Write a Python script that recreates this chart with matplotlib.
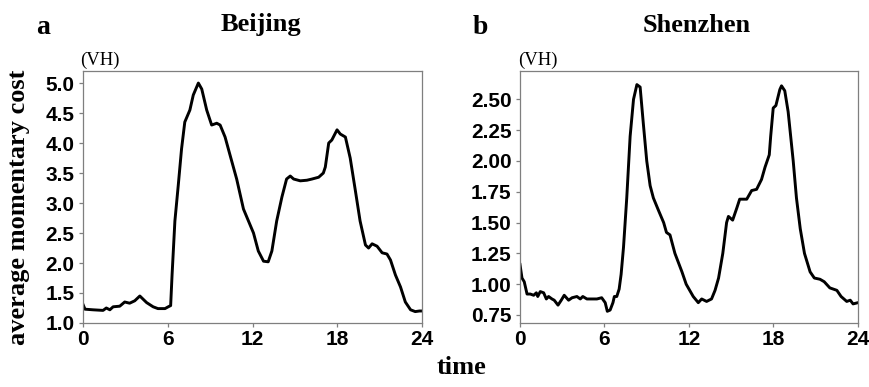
import matplotlib
matplotlib.use("Agg")
import matplotlib.pyplot as plt

# Beijing: hour of day vs average momentary cost (VH)
bj_time = [0.0, 0.14, 0.7, 1.42, 1.65, 1.9, 2.13, 2.6, 2.95, 3.3, 3.66, 4.02,
           4.5, 4.96, 5.3, 5.8, 6.03, 6.2, 6.3, 6.5, 6.74, 6.97, 7.2, 7.56,
           7.8, 8.16, 8.4, 8.75, 9.1, 9.46, 9.7, 10.05, 10.4, 10.87, 11.35,
           12.06, 12.4, 12.77, 13.1, 13.36, 13.7, 14.07, 14.4, 14.66, 14.9,
           15.37, 15.84, 16.2, 16.67, 17.0, 17.14, 17.38, 17.6, 17.97, 18.2,
           18.56, 18.9, 19.27, 19.6, 19.98, 20.2, 20.45, 20.8, 21.16, 21.5,
           21.75, 22.1, 22.46, 22.8, 23.17, 23.5, 23.8, 24.0]
bj_cost = [1.31, 1.23, 1.22, 1.21, 1.25, 1.22, 1.27, 1.28, 1.35, 1.33, 1.37, 1.45,
           1.34, 1.27, 1.24, 1.24, 1.27, 1.29, 1.8, 2.7, 3.3, 3.9, 4.35, 4.55,
           4.8, 5.0, 4.9, 4.55, 4.3, 4.33, 4.3, 4.1, 3.8, 3.4, 2.9,
           2.5, 2.2, 2.03, 2.02, 2.2, 2.7, 3.1, 3.4, 3.45, 3.4,
           3.37, 3.38, 3.4, 3.43, 3.5, 3.6, 4.0, 4.05, 4.22, 4.15,
           4.1, 3.75, 3.2, 2.7, 2.3, 2.25, 2.32, 2.28, 2.17, 2.15,
           2.05, 1.8, 1.6, 1.35, 1.22, 1.19, 1.2, 1.2]

# Shenzhen
sz_time = [0.0, 0.14, 0.3, 0.5, 0.73, 0.97, 1.16, 1.26, 1.44, 1.68, 1.87, 2.03,
           2.27, 2.43, 2.7, 2.93, 3.14, 3.45, 3.7, 4.04, 4.28, 4.46, 4.75, 5.46,
           5.8, 6.05, 6.2, 6.4, 6.6, 6.7, 6.87, 7.04, 7.18, 7.35, 7.58, 7.82,
           8.06, 8.3, 8.53, 8.76, 9.0, 9.24, 9.47, 9.83, 10.2, 10.4, 10.65,
           11.0, 11.5, 11.8, 12.3, 12.66, 12.9, 13.25, 13.6, 13.85, 14.1, 14.4,
           14.67, 14.8, 15.1, 15.4, 15.6, 16.1, 16.45, 16.8, 17.15, 17.4, 17.7,
           17.8, 17.98, 18.17, 18.45, 18.57, 18.8, 19.04, 19.4, 19.63, 19.9,
           20.2, 20.6, 20.9, 21.3, 21.6, 22.0, 22.5, 22.8, 23.2, 23.45, 23.65,
           24.0]
sz_cost = [1.16, 1.05, 1.02, 0.92, 0.92, 0.91, 0.93, 0.90, 0.94, 0.93, 0.88, 0.90,
           0.88, 0.87, 0.83, 0.87, 0.91, 0.87, 0.89, 0.90, 0.88, 0.90, 0.88, 0.88,
           0.89, 0.85, 0.78, 0.79, 0.85, 0.90, 0.90, 0.96, 1.08, 1.3, 1.7, 2.2,
           2.5, 2.62, 2.6, 2.3, 2.0, 1.8, 1.7, 1.6, 1.5, 1.42, 1.40,
           1.25, 1.1, 1.0, 0.9, 0.85, 0.88, 0.86, 0.88, 0.95, 1.05, 1.25,
           1.5, 1.55, 1.52, 1.62, 1.69, 1.69, 1.76, 1.77, 1.85, 1.95, 2.05,
           2.2, 2.43, 2.45, 2.58, 2.61, 2.57, 2.4, 2.0, 1.7, 1.45,
           1.25, 1.1, 1.05, 1.04, 1.02, 0.97, 0.95, 0.90, 0.86, 0.87, 0.84,
           0.85]

x_ticks = [0, 6, 12, 18, 24]
bj_yticks = [1.0, 1.5, 2.0, 2.5, 3.0, 3.5, 4.0, 4.5, 5.0]
sz_yticks = [0.75, 1.00, 1.25, 1.50, 1.75, 2.00, 2.25, 2.50]

SERIF = "Liberation Serif"
SANS = "Liberation Sans"
FRAME = "#7f7f7f"


def style_axes(ax, yticks, fmt, ylim):
    ax.set_xlim(0, 24)
    ax.set_ylim(*ylim)
    ax.set_xticks(x_ticks)
    ax.set_yticks(yticks)
    ax.set_xticklabels([str(t) for t in x_ticks], fontfamily=SANS,
                       fontweight="bold", fontsize=15)
    ax.set_yticklabels([fmt.format(v) for v in yticks], fontfamily=SANS,
                       fontweight="bold", fontsize=15)
    for spine in ax.spines.values():
        spine.set_color(FRAME)
        spine.set_linewidth(0.9)
    ax.tick_params(axis="both", color=FRAME, length=3, width=0.9)
    ax.tick_params(axis="y", pad=3)
    ax.tick_params(axis="x", pad=2)


fig = plt.figure(figsize=(8.7, 3.87), dpi=100)
ax1 = fig.add_axes([0.0954, 0.1654, 0.390, 0.651])
ax2 = fig.add_axes([0.5977, 0.1654, 0.3885, 0.651])

ax1.plot(bj_time, bj_cost, color="black", lw=2.1, solid_joinstyle="round")
ax2.plot(sz_time, sz_cost, color="black", lw=2.1, solid_joinstyle="round")

style_axes(ax1, bj_yticks, "{:.1f}", (1.0, 5.2))
style_axes(ax2, sz_yticks, "{:.2f}", (0.685, 2.73))

# panel letters and titles
fig.text(43 / 870, 1 - 27 / 387, "a", family=SERIF, weight="bold",
         fontsize=20, ha="center", va="center")
fig.text(261 / 870, 1 - 25 / 387, "Beijing", family=SERIF, weight="bold",
         fontsize=19, ha="center", va="center")
fig.text(480 / 870, 1 - 27 / 387, "b", family=SERIF, weight="bold",
         fontsize=20, ha="center", va="center")
fig.text(697 / 870, 1 - 25 / 387, "Shenzhen", family=SERIF, weight="bold",
         fontsize=19, ha="center", va="center")

# unit labels
fig.text(80 / 870, 1 - 60 / 387, "(VH)", family=SERIF, fontsize=13.5,
         ha="left", va="center")
fig.text(518 / 870, 1 - 60 / 387, "(VH)", family=SERIF, fontsize=13.5,
         ha="left", va="center")

# shared axis labels
fig.text(19 / 870, 1 - 207 / 387, "average momentary cost", family=SERIF,
         weight="bold", fontsize=19, rotation=90, ha="center", va="center")
fig.text(462 / 870, 1 - 368 / 387, "time", family=SERIF, weight="bold",
         fontsize=19, ha="center", va="center")

fig.savefig("out.png", dpi=100)
